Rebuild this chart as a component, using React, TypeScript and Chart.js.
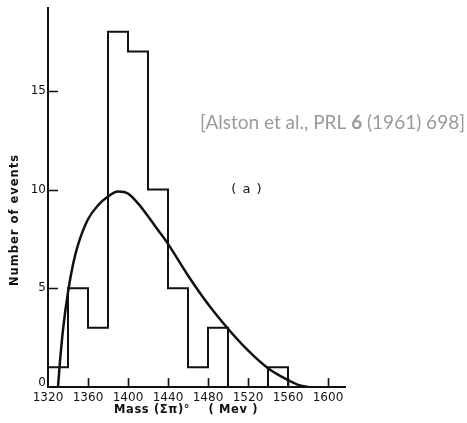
import React, { useEffect, useRef } from "react";
import { Chart, registerables } from "chart.js";

Chart.register(...registerables);

// Histogram: bin edges (MeV) and counts per 20 MeV bin (last edge closes to 0)
const binEdges = [1320, 1340, 1360, 1380, 1400, 1420, 1440, 1460, 1480, 1500, 1520, 1540, 1560];
const binCounts = [1, 5, 3, 18, 17, 10, 5, 1, 3, 0, 0, 1, 0];

// Phase-space curve
const curveMass = [1330, 1332, 1335, 1340, 1345, 1350, 1360, 1370, 1380, 1390, 1400, 1410, 1420, 1430, 1440, 1460, 1480, 1500, 1520, 1540, 1560, 1572, 1580];
const curveEvents = [0, 1.3, 2.9, 4.8, 6.2, 7.2, 8.5, 9.2, 9.65, 9.9, 9.8, 9.3, 8.65, 7.95, 7.25, 5.65, 4.2, 2.95, 1.85, 0.95, 0.35, 0.08, 0];

const xTicks = [1320, 1360, 1400, 1440, 1480, 1520, 1560, 1600];
const yTicks = [0, 5, 10, 15];

const xTitle = "Mass (Σπ)°    ( Mev )";
const yTitle = "Number of events";
const panelLabel = "( a )";
const citeParts = ["[Alston et al., PRL ", "6", " (1961) 698]"];

const X_MIN = 1320;
const X_MAX = 1617;
const Y_MAX = 19.2;

export default function App() {
  const ref = useRef<HTMLCanvasElement | null>(null);

  useEffect(() => {
    const canvas = ref.current;
    if (!canvas) return;

    const decor = {
      id: "decor",
      afterDraw(chart: any) {
        const ctx = chart.ctx as CanvasRenderingContext2D;
        const xs = chart.scales.x;
        const ys = chart.scales.y;
        const x0 = xs.getPixelForValue(X_MIN);
        const y0 = ys.getPixelForValue(0);
        ctx.save();
        ctx.strokeStyle = "#111";
        ctx.lineWidth = 1.6;
        // inner ticks
        ctx.beginPath();
        for (const v of xTicks) {
          if (v === X_MIN) continue;
          const px = Math.round(xs.getPixelForValue(v)) + 0.5;
          ctx.moveTo(px, y0);
          ctx.lineTo(px, y0 - 9);
        }
        for (const v of yTicks) {
          if (v === 0) continue;
          const py = Math.round(ys.getPixelForValue(v)) + 0.5;
          ctx.moveTo(x0, py);
          ctx.lineTo(x0 + 10, py);
        }
        ctx.stroke();

        ctx.fillStyle = "#111";
        // tick labels
        ctx.font = "12px 'DejaVu Sans'";
        ctx.textAlign = "center";
        ctx.textBaseline = "middle";
        for (const v of xTicks) {
          ctx.fillText(String(v), xs.getPixelForValue(v), y0 + 11);
        }
        ctx.textAlign = "right";
        for (const v of yTicks) {
          ctx.fillText(String(v), x0 - 2, ys.getPixelForValue(v) - (v === 0 ? 4 : 0));
        }

        // axis titles
        (ctx as any).letterSpacing = "0.6px";
        ctx.font = "bold 11.5px 'DejaVu Sans'";
        ctx.textAlign = "center";
        ctx.fillText(xTitle, 186, 410);
        (ctx as any).letterSpacing = "1px";
        ctx.save();
        ctx.translate(15, 220);
        ctx.rotate(-Math.PI / 2);
        ctx.fillText(yTitle, 0, 0);
        ctx.restore();

        ctx.font = "13px 'DejaVu Sans'";
        ctx.fillText(panelLabel, 247, 190);
        (ctx as any).letterSpacing = "0px";

        // citation
        ctx.fillStyle = "#9a9a9a";
        ctx.textAlign = "left";
        let cx = 200;
        const fonts = ["19px Lato", "bold 19px Lato", "19px Lato"];
        citeParts.forEach((t, i) => {
          ctx.font = fonts[i];
          ctx.fillText(t, cx, 123);
          cx += ctx.measureText(t).width;
        });
        ctx.restore();
      },
    };

    const histData = binEdges.map((x, i) => ({ x, y: binCounts[i] }));
    const curveData = curveMass.map((x, i) => ({ x, y: curveEvents[i] }));

    const chart = new Chart(canvas, {
      type: "line",
      data: {
        datasets: [
          {
            data: histData,
            stepped: "before",
            borderColor: "#111",
            borderWidth: 2,
            pointRadius: 0,
            fill: false,
          },
          {
            data: curveData,
            cubicInterpolationMode: "monotone",
            borderColor: "#111",
            borderWidth: 2.5,
            pointRadius: 0,
            fill: false,
          },
        ],
      },
      options: {
        animation: false,
        responsive: false,
        maintainAspectRatio: false,
        layout: { padding: { left: 0, top: 8, right: 122, bottom: 0 } },
        plugins: { legend: { display: false }, tooltip: { enabled: false } },
        scales: {
          x: {
            type: "linear",
            min: X_MIN,
            max: X_MAX,
            grid: { display: false, drawTicks: false },
            border: { display: true, color: "#111", width: 2 },
            ticks: { display: false },
            afterFit: (s: any) => {
              s.height = 36;
            },
          },
          y: {
            type: "linear",
            min: 0,
            max: Y_MAX,
            grid: { display: false, drawTicks: false },
            border: { display: true, color: "#111", width: 2 },
            ticks: { display: false },
            afterFit: (s: any) => {
              s.width = 48;
            },
          },
        },
      },
      plugins: [decor],
    });
    return () => chart.destroy();
  }, []);

  return (
    <div style={{ position: "fixed", left: 0, top: 0, width: 467, height: 423, background: "#fff" }}>
      <canvas ref={ref} width={467} height={423} style={{ display: "block" }} />
    </div>
  );
}
